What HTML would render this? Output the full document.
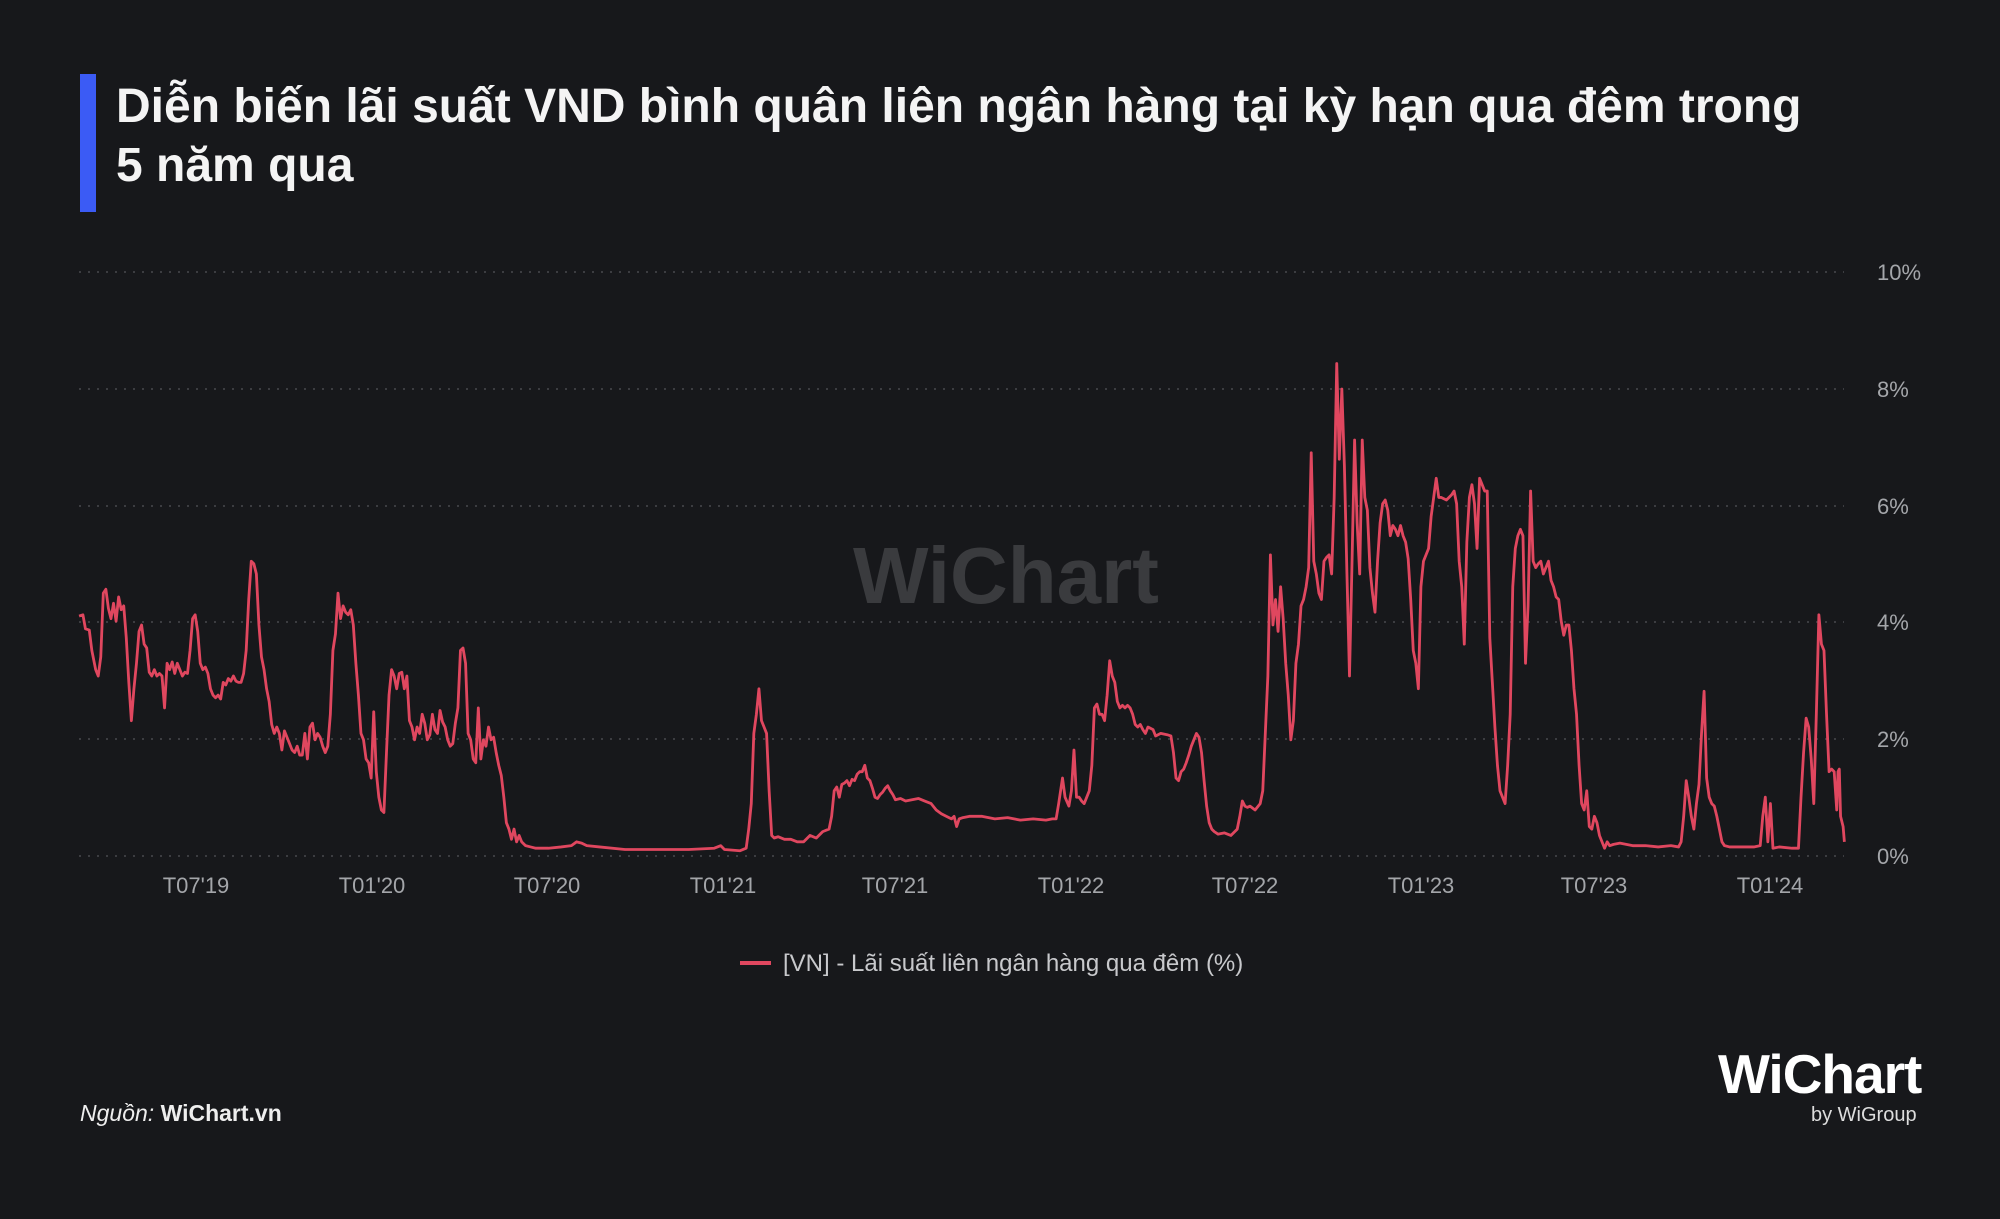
<!DOCTYPE html>
<html><head><meta charset="utf-8"><style>
html,body{margin:0;padding:0;background:#17181b;}
body{width:2000px;height:1219px;position:relative;overflow:hidden;font-family:"Liberation Sans",sans-serif;}
.bar{position:absolute;left:80px;top:74px;width:16px;height:138px;background:#3b5bf5;}
.title{position:absolute;left:116px;top:77px;width:1800px;color:#f4f4f4;font-size:48px;font-weight:bold;line-height:59px;}
.src{position:absolute;left:80px;top:1100px;color:#eee;font-size:23px;}
.logo{position:absolute;left:1718px;top:1042px;color:#fff;font-size:55px;font-weight:bold;letter-spacing:-1px;}
.by{position:absolute;left:1811px;top:1104px;color:#ddd;font-size:20px;}
</style></head><body>
<div class="bar"></div>
<div class="title">Diễn biến lãi suất VND bình quân liên ngân hàng tại kỳ hạn qua đêm trong<br>5 năm qua</div>
<svg width="2000" height="1219" style="position:absolute;left:0;top:0">
<g stroke="#3c3d41" stroke-width="2" stroke-dasharray="2 7">
<line x1="79" x2="1844" y1="272" y2="272"/><line x1="79" x2="1844" y1="389" y2="389"/>
<line x1="79" x2="1844" y1="506" y2="506"/><line x1="79" x2="1844" y1="622" y2="622"/>
<line x1="79" x2="1844" y1="739" y2="739"/><line x1="79" x2="1844" y1="856" y2="856"/>
</g>
<g fill="#a4a6aa" font-size="22" font-family="Liberation Sans, sans-serif">
<text x="1877" y="280">10%</text><text x="1877" y="397">8%</text><text x="1877" y="514">6%</text>
<text x="1877" y="630">4%</text><text x="1877" y="747">2%</text><text x="1877" y="864">0%</text>
<g text-anchor="middle">
<text x="196" y="893">T07'19</text><text x="372" y="893">T01'20</text><text x="547" y="893">T07'20</text>
<text x="723" y="893">T01'21</text><text x="895" y="893">T07'21</text><text x="1071" y="893">T01'22</text>
<text x="1245" y="893">T07'22</text><text x="1421" y="893">T01'23</text><text x="1594" y="893">T07'23</text>
<text x="1770" y="893">T01'24</text></g>
</g>
<text x="853" y="603" font-size="80" font-weight="bold" fill="#3a3b3e" font-family="Liberation Sans, sans-serif">WiChart</text>
<g transform="scale(1.27551)">
<polyline fill="none" stroke="#e0475f" stroke-width="2.2" stroke-linejoin="round" points="62,483 65,482 67,493 70,494 72,510 75,525 77,530 79,515 81,465 83,462 85,477 87,485 89,473 91,487 93,468 95,478 97,475 99,500 101,535 103,565 105,540 107,520 109,495 111,490 113,505 115,508 117,527 119,530 121,525 123,530 125,528 127,530 129,555 131,520 133,525 135,519 137,528 139,520 141,525 143,530 145,527 147,528 149,510 151,485 153,482 155,495 157,520 159,525 161,523 163,528 165,540 167,545 169,547 171,545 173,548 175,535 177,537 179,532 181,534 183,530 185,534 187,535 189,535 191,528 193,510 195,470 197,440 199,442 201,450 203,490 205,515 207,525 209,540 211,550 213,568 215,575 217,570 219,575 221,588 223,573 225,578 227,583 229,588 231,590 233,585 235,592 237,592 239,575 241,595 243,570 245,567 247,580 249,575 251,578 253,585 255,590 257,585 259,560 261,510 263,497 265,465 267,485 269,475 271,480 273,482 275,478 277,490 279,520 281,545 283,575 285,580 287,595 289,598 291,610 293,558 295,605 297,625 299,635 301,637 303,590 305,545 307,525 309,530 311,540 313,528 315,527 317,540 319,530 321,565 323,570 325,580 327,570 329,575 331,560 333,567 335,580 337,576 339,560 341,572 343,575 345,557 347,566 349,570 351,580 353,585 355,583 357,567 359,555 361,510 363,508 365,520 367,575 369,580 371,595 373,598 375,555 377,595 379,580 381,585 383,570 385,580 387,578 389,590 391,600 393,608 395,625 397,645 399,650 401,658 403,650 405,660 407,655 409,660 412,663 416,664 420,665 430,665 440,664 448,663 452,660 456,661 460,663 470,664 490,666 520,666 540,666 560,665 565,663 568,666 580,667 585,665 587,650 589,630 591,575 593,560 595,540 597,565 599,570 601,575 603,620 605,655 607,657 610,656 615,658 620,658 625,660 630,660 635,655 640,657 645,652 650,650 652,640 654,620 656,617 658,625 660,615 662,614 664,612 666,616 668,611 670,612 672,607 674,605 676,605 678,600 680,610 682,612 684,618 686,625 688,626 690,623 692,621 694,618 696,616 698,620 700,623 702,627 706,626 710,628 715,627 720,626 725,628 730,630 734,635 738,638 742,640 746,642 748,640 750,648 752,642 755,641 760,640 770,640 780,642 790,641 800,643 810,642 820,643 825,642 828,642 830,630 833,610 835,625 838,632 840,620 842,588 844,625 846,625 848,628 850,630 854,620 856,600 858,555 860,552 862,560 864,560 866,565 868,545 870,518 872,530 874,535 876,550 878,555 880,553 882,555 884,553 886,555 888,560 890,568 892,570 894,568 896,572 898,575 900,570 904,572 906,577 910,575 915,576 918,577 920,590 922,610 924,612 926,605 928,603 930,598 932,592 934,585 936,580 938,575 940,578 942,590 944,612 946,632 948,645 950,650 952,652 955,654 960,653 965,655 970,650 972,640 974,628 976,632 978,633 980,632 984,635 988,630 990,620 992,575 994,530 996,435 998,490 1000,470 1002,495 1004,460 1006,485 1008,520 1010,545 1012,580 1014,565 1016,520 1018,505 1020,475 1022,470 1024,460 1026,445 1028,355 1030,440 1032,450 1034,465 1036,470 1038,440 1040,437 1042,435 1044,450 1046,390 1048,285 1050,360 1052,305 1054,365 1056,450 1058,530 1060,440 1062,345 1064,410 1066,450 1068,345 1070,390 1072,400 1074,445 1076,465 1078,480 1080,440 1082,410 1084,395 1086,392 1088,400 1090,420 1092,412 1094,415 1096,420 1098,412 1100,420 1102,425 1104,438 1106,470 1108,510 1110,520 1112,540 1114,460 1116,440 1118,435 1120,430 1122,405 1124,390 1126,375 1128,390 1130,390 1134,392 1138,388 1140,385 1142,395 1144,440 1146,460 1148,505 1150,425 1152,390 1154,380 1156,395 1158,430 1160,375 1162,380 1164,385 1166,385 1168,500 1170,535 1172,570 1174,600 1176,620 1178,625 1180,630 1182,600 1184,560 1186,460 1188,430 1190,420 1192,415 1194,420 1196,520 1198,475 1200,385 1202,440 1204,445 1206,442 1208,440 1210,450 1212,445 1214,440 1216,455 1218,460 1220,468 1222,470 1224,487 1226,498 1228,490 1230,490 1232,510 1234,540 1236,560 1238,600 1240,630 1242,635 1244,620 1246,648 1248,650 1250,640 1252,645 1254,655 1256,660 1258,665 1260,660 1262,663 1265,662 1270,661 1280,663 1290,663 1300,664 1310,663 1316,664 1318,660 1320,640 1322,612 1324,625 1326,640 1328,650 1330,630 1332,615 1334,575 1336,542 1338,610 1340,625 1342,630 1344,632 1346,640 1348,650 1350,660 1352,663 1356,664 1365,664 1375,664 1380,663 1382,640 1384,625 1386,660 1388,630 1390,665 1395,664 1405,665 1410,665 1412,625 1414,590 1416,563 1418,570 1420,595 1422,630 1424,560 1426,482 1428,505 1430,510 1432,560 1434,605 1436,603 1438,605 1440,635 1441,605 1442,603 1443,640 1445,648 1446,660"/>
</g>
<line x1="740" x2="771" y1="963" y2="963" stroke="#e0475f" stroke-width="4"/>
<text x="783" y="971" font-size="24" fill="#c8c9cc" font-family="Liberation Sans, sans-serif">[VN] - Lãi suất liên ngân hàng qua đêm (%)</text>
</svg>
<div class="src"><i>Nguồn:</i> <b>WiChart.vn</b></div>
<div class="logo">WiChart</div>
<div class="by">by WiGroup</div>
</body></html>
